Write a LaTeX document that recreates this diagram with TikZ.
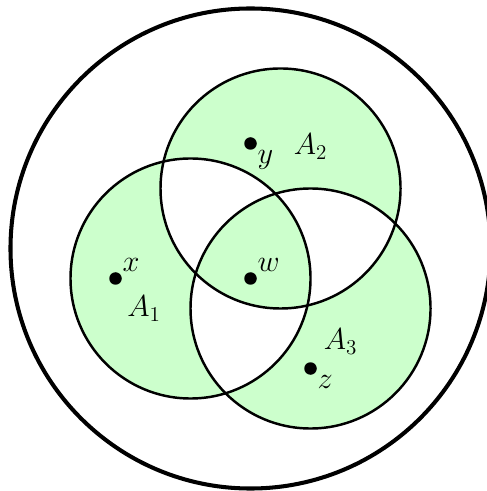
\documentclass[tikz,border=0pt]{standalone}
\begin{document}
\begin{tikzpicture}[
        x=0.6cm, y=0.6cm,
        font=\fontsize{17.5}{21}\selectfont,
        setline/.style={draw, line width=1.4pt},
        outer/.style={draw, line width=2.3pt},
        dot/.style={circle, fill=black, inner sep=0pt, minimum size=0.25cm},
        lbl/.style={inner sep=1.2pt},
    ]
        \useasboundingbox (-8.35,-7.083) rectangle (7.85,9.283);
        
        % Set centres
        \coordinate (c1) at (-2, 0);
        \coordinate (c2) at (1, 3);
        \coordinate (c3) at (2, -1);
        \coordinate (u) at (0, 1);
        
        % Universe
        \draw[outer] (u) circle (8);
        
        % Odd regions
        \fill[green!20, even odd rule] (c1) circle (4) (c2) circle (4) (c3) circle (4);
        \draw[setline] (c1) circle (4);
        \draw[setline] (c2) circle (4);
        \draw[setline] (c3) circle (4);
        
        % Points
        \node[dot, label={[lbl]above right:$x$}] (x) at (-4.5, 0) {};
        \node[dot, label={[lbl]below right:$y$}] (y) at (0, 4.5) {};
        \node[dot, label={[lbl]above right:$w$}] (w) at (0, 0) {};
        \node[dot, label={[lbl]below right:$z$}] (z) at (2, -3) {};
        
        % Set names
        \node (a1) at (-3.55, -1) {$A_1$};
        \node (a2) at (2, 4.4) {$A_2$};
        \node (a3) at (3, -2.1) {$A_3$};
        
    \end{tikzpicture}
\end{document}
